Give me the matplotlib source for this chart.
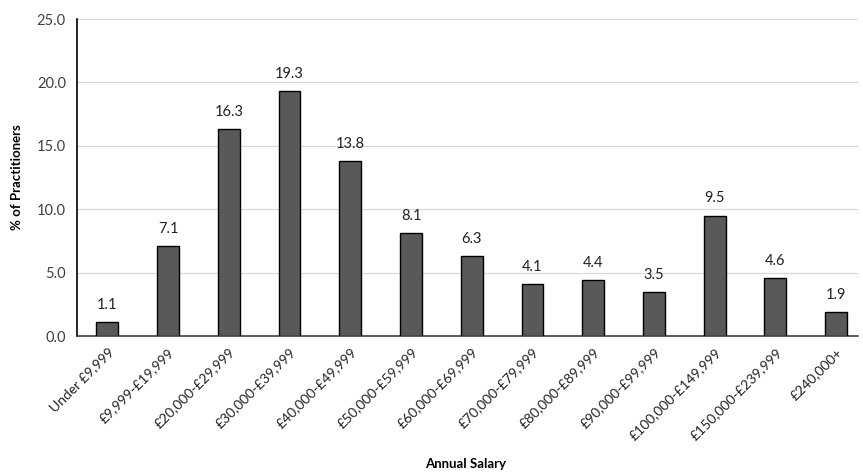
import matplotlib
matplotlib.use("Agg")
import matplotlib.pyplot as plt

categories = ["Under £9,999", "£9,999-£19,999", "£20,000-£29,999", "£30,000-£39,999",
              "£40,000-£49,999", "£50,000-£59,999", "£60,000-£69,999", "£70,000-£79,999",
              "£80,000-£89,999", "£90,000-£99,999", "£100,000-£149,999", "£150,000-£239,999",
              "£240,000+"]
values = [1.1, 7.1, 16.3, 19.3, 13.8, 8.1, 6.3, 4.1, 4.4, 3.5, 9.5, 4.6, 1.9]
yticks = [0, 5, 10, 15, 20, 25]

plt.rcParams['font.family'] = ['Lato', 'DejaVu Sans']
fig = plt.figure(figsize=(8.63, 4.76), dpi=100)
ax = fig.add_axes([0.0892, 0.294, 0.905, 0.666])

x = list(range(len(categories)))
ax.bar(x, values, width=0.36, color='#595959', edgecolor='black', linewidth=1.0, zorder=3)
for xi, v in zip(x, values):
    ax.text(xi, v + 0.8, f"{v:.1f}", ha='center', va='bottom', fontsize=10.5, color='#222222')

ax.set_xlim(-0.5, 12.36)
ax.set_ylim(0, 25)
ax.set_yticks(yticks)
ax.set_yticklabels([f"{t:.1f}" for t in yticks], fontsize=10.5, color='#404040')
ax.yaxis.grid(True, color='#d9d9d9', linewidth=0.9, zorder=0)
ax.set_xticks(x)
ax.set_xticklabels(categories, rotation=45, ha='right', rotation_mode='anchor', fontsize=10, color='#222222')
ax.tick_params(axis='both', length=0)
ax.tick_params(axis='x', pad=7)
ax.tick_params(axis='y', pad=8)
for s in ['top', 'right']:
    ax.spines[s].set_visible(False)
ax.spines['left'].set_color('black')
ax.spines['left'].set_linewidth(1.2)
ax.spines['bottom'].set_color('#404040')
ax.spines['bottom'].set_linewidth(1.2)
ax.set_ylabel("% of Practitioners", fontsize=9.5, fontweight='bold', labelpad=10)
fig.text(0.54, 0.012, "Annual Salary", ha='center', va='bottom', fontsize=9.5, fontweight='bold')

fig.savefig("out.png", dpi=100)
